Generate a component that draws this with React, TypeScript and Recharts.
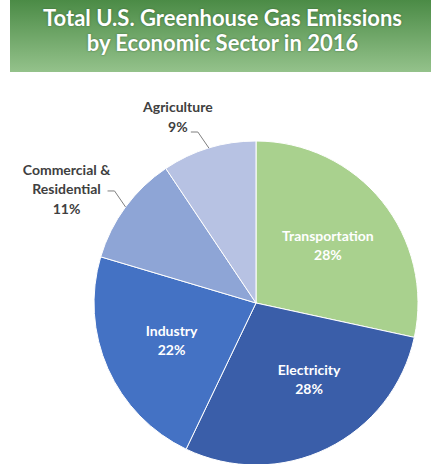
import React from "react";
import { PieChart, Pie, Cell } from "recharts";

const sectors = ["Transportation", "Electricity", "Industry", "Commercial & Residential", "Agriculture"];
const shares = [28.4, 28.7, 22.5, 11.0, 9.4];
const percentLabels = ["28%", "28%", "22%", "11%", "9%"];
const sliceColors = ["#a9d18e", "#3a5ea9", "#4472c4", "#8ea5d6", "#b7c2e3"];
const nameLines: string[][] = [
  ["Transportation"],
  ["Electricity"],
  ["Industry"],
  ["Commercial &", "Residential"],
  ["Agriculture"],
];

const data = sectors.map((name, i) => ({ name, value: shares[i], pct: percentLabels[i], lines: nameLines[i] }));

const RAD = Math.PI / 180;
const FONT = "Lato, 'Open Sans', sans-serif";

const renderLabel = (props: any) => {
  const { cx, cy, midAngle, outerRadius, index } = props;
  const d = data[index];
  const outside = index >= 3;
  if (!outside) {
    const angleTweak = index === 1 ? 9 : 0;
    const a = (midAngle + angleTweak) * RAD;
    const r = outerRadius * 0.57;
    const x = cx + r * Math.cos(a);
    const y = cy - r * Math.sin(a);
    return (
      <text x={x} y={y} textAnchor="middle" fill="#ffffff" fontFamily={FONT} fontWeight={700} fontSize={14}>
        {d.lines.map((l: string, k: number) => (
          <tspan key={k} x={x} y={y - 4 + k * 19}>{l}</tspan>
        ))}
        <tspan x={x} y={y - 4 + d.lines.length * 19}>{d.pct}</tspan>
      </text>
    );
  }
  const a = midAngle * RAD;
  const x0 = cx + outerRadius * Math.cos(a);
  const y0 = cy - outerRadius * Math.sin(a);
  const x1 = x0 - 11;
  const y1 = y0 - 16;
  const x2 = x1 - 7;
  const y2 = y1;
  const dx = index === 3 ? -41 : -13;
  const dy = index === 3 ? -16 : -20;
  const tx = x2 + dx;
  const ty = y2 + dy;
  const allLines = [...d.lines, d.pct];
  return (
    <g>
      <polyline points={`${x0},${y0} ${x1},${y1} ${x2},${y2}`} fill="none" stroke="#7f7f7f" strokeWidth={1} />
      <text x={tx} y={ty} textAnchor="middle" fill="#404040" fontFamily={FONT} fontWeight={700} fontSize={14}>
        {allLines.map((l: string, k: number) => (
          <tspan key={k} x={tx} y={ty + k * 19.5}>{l}</tspan>
        ))}
      </text>
    </g>
  );
};

export default function App() {
  return (
    <div style={{ position: "absolute", left: 0, top: 0, width: 431, height: 464, background: "#ffffff", overflow: "hidden" }}>
      <div
        style={{
          position: "absolute",
          left: 10,
          top: 0,
          width: 421,
          height: 72,
          background: "linear-gradient(#4b8b46, #94c28b)",
        }}
      />
      <div
        style={{
          position: "absolute",
          left: 12,
          top: 5,
          width: 421,
          textAlign: "center",
          color: "#ffffff",
          fontFamily: FONT,
          fontWeight: 700,
          fontSize: 22,
          lineHeight: "25px",
          textShadow: "0 0 2px rgba(40,80,40,0.7)",
        }}
      >
        <div>Total U.S. Greenhouse Gas Emissions</div>
        <div>by Economic Sector in 2016</div>
      </div>
      <div style={{ position: "absolute", left: 0, top: 0 }}>
        <PieChart width={431} height={464} margin={{ top: 0, right: 0, bottom: 0, left: 0 }}>
          <Pie
            data={data}
            dataKey="value"
            nameKey="name"
            cx={256}
            cy={303}
            outerRadius={162}
            startAngle={90}
            endAngle={-270}
            stroke="#ffffff"
            strokeWidth={1}
            label={renderLabel}
            labelLine={false}
            isAnimationActive={false}
          >
            {data.map((d, i) => (
              <Cell key={d.name} fill={sliceColors[i]} />
            ))}
          </Pie>
        </PieChart>
      </div>
    </div>
  );
}
